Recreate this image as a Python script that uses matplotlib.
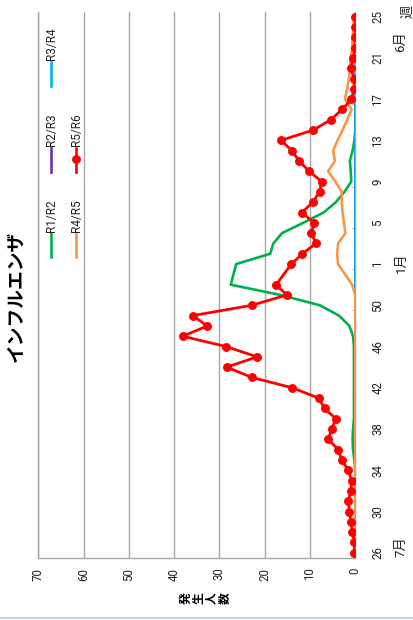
import numpy as np
import matplotlib
matplotlib.use('Agg')
import matplotlib.pyplot as plt
from matplotlib.lines import Line2D
import matplotlib.transforms as mtransforms

plt.rcParams['font.family'] = ['Roboto', 'Noto Sans CJK JP', 'DejaVu Sans']

nan = np.nan
# categories: ISO weeks from week 26 to week 53, then 1 to 25
weeks = list(range(26, 54)) + list(range(1, 26))

r1_r2 = [0, 0, 0, 0, 0, 0, 0, 0, 0, 0.2, 0.5, 0.6, 0.5, 0.3, 0.3, 0.3, 0.3, 0.3, 0.3, 0.3,
         0.3, 0.5, 1.3, 3.6, 7.8, 16.5, 27.5, nan,
         26.3, 18.8, 18.1, 16.2, 11.5, 7.0, 4.3, 2.4, 0.9, 1.0, 1.2, 0.6, 0.2,
         0, 0, 0, 0, 0, 0, 0, 0, 0, 0, 0, 0]
r2_r3 = [0] * 53
r3_r4 = [0] * 27 + [nan] + [0] * 25
r4_r5 = [0] * 26 + [0.7, nan,
         3.8, 4.0, 3.8, 2.2, 2.5, 2.8, 3.0, 3.0, 4.4, 6.0, 4.5, 4.9, 3.9, 2.8, 1.8, 0.8,
         2.3, 1.8, 1.4, 1.2, 1.0, 0.7, 0.6, 0.4, 0.2]
r5_r6 = [0.2, 0.2, 0.65, 0.95, 1.3, 1.55, 0.95, 0.8, 1.55, 3.0, 3.75, 6.0, 5.2, 4.3, 6.8,
         8.1, 13.9, 22.8, 28.4, 21.7, 28.5, 38.1, 32.7, 35.9, 22.9, 15.1, 17.5, nan,
         14.1, 11.7, 8.7, 9.7, 9.1, 11.8, 9.4, 7.9, 7.4, 10.2, 12.4, 14.0, 16.4, 9.3, 5.4,
         2.9, 0.85, 0.25, 0.25, 1.05, 0.4, 0.1, 0.05, 0, 0]

series_names = ['R1/R2', 'R2/R3', 'R3/R4', 'R4/R5', 'R5/R6']
series_vals = [r1_r2, r2_r3, r3_r4, r4_r5, r5_r6]
colors = ['#00B050', '#7030A0', '#00B0F0', '#F79646', '#FF0000']

value_ticks = [0, 10, 20, 30, 40, 50, 60, 70]
title = 'インフルエンザ'
ylabel = '発生人数'
month_labels = ['7月', '1月', '6月']
month_anchor_weeks = [26, 1, 22]
week_unit = '週'

W, H = 413, 620
fig = plt.figure(figsize=(W / 100, H / 100), dpi=100)
ax = fig.add_axes([38.3 / W, (H - 557.9) / H, 317.0 / W, 546.4 / H])

idx = np.arange(len(weeks))
for k, (name, vals, col) in enumerate(zip(series_names, series_vals, colors)):
    v = np.array(vals, dtype=float)
    m = ~np.isnan(v)
    if name == 'R5/R6':
        ax.plot(v[m], idx[m], color=col, lw=2.0, marker='o', ms=5.4, zorder=3 + k,
                solid_joinstyle='round')
    else:
        ax.plot(v[m], idx[m], color=col, lw=1.9, zorder=3 + k, solid_joinstyle='round')

ax.set_xlim(70, 0)
ax.set_ylim(-0.5, len(weeks) - 0.5)
ax.set_xticks(value_ticks)
ax.set_xticklabels([str(t) for t in value_ticks], rotation=90, fontsize=8.3, color='#222222')
ax.tick_params(axis='x', length=0, pad=7)
ax.grid(axis='x', color='#A6A6A6', lw=1.0)
ax.set_axisbelow(True)

ax.yaxis.tick_right()
major = idx[::4]
ax.set_yticks(major)
ax.set_yticklabels([str(weeks[i]) for i in major], rotation=90, va='center',
                   fontsize=8.3, color='#222222')
ax.set_yticks(np.arange(-0.5, len(weeks), 4), minor=True)
ax.tick_params(axis='y', which='major', length=0, pad=11.5)
ax.tick_params(axis='y', which='minor', length=2.5, direction='in', color='#A6A6A6',
               right=True, left=False)

for s in ['top']:
    ax.spines[s].set_visible(False)
for s in ['left', 'bottom', 'right']:
    ax.spines[s].set_color('#A6A6A6')
    ax.spines[s].set_linewidth(1.0)

# month labels and unit
tr = mtransforms.blended_transform_factory(fig.transFigure, ax.transData)
offsets = [0.55, 0.1, 0.6]
for lab, wk, off in zip(month_labels, month_anchor_weeks, offsets):
    ax.text(401 / W, weeks.index(wk) + off, lab, transform=tr, rotation=90,
            ha='center', va='center', fontsize=9.5, color='#222222', clip_on=False)
ax.text(407.5 / W, len(weeks) - 1 + 0.55, week_unit, transform=tr, rotation=90,
        ha='center', va='center', fontsize=9.5, color='#222222', clip_on=False)

# title
fig.text(16 / W, (H - 296) / H, title, rotation=90, ha='center', va='center',
         fontsize=13.5, fontweight='bold', family=['Noto Sans CJK JP', 'DejaVu Sans'])

# axis title: stacked characters
for i, ch in enumerate(ylabel):
    fig.text((186.3 + 12.5 * i) / W, (H - 598.5) / H, ch, rotation=90, ha='center',
             va='center', fontsize=8.5, fontweight='bold',
             family=['Noto Sans CJK JP', 'DejaVu Sans'])

# legend (rotated layout)
col_x = [50.5, 76.0]
row_base = [257.0, 171.5, 86.0]
for k, (name, col) in enumerate(zip(series_names, colors)):
    cx = col_x[k // 3]
    yb = row_base[k % 3]
    ln = Line2D([cx / W, cx / W], [(H - yb) / H, (H - (yb - 24)) / H],
                transform=fig.transFigure, color=col, lw=1.9)
    fig.add_artist(ln)
    if name == 'R5/R6':
        mk = Line2D([cx / W], [(H - (yb - 12)) / H], transform=fig.transFigure,
                    color=col, marker='o', ms=5.4, lw=0)
        fig.add_artist(mk)
    fig.text((cx + 0.8) / W, (H - (yb - 25.5)) / H, name, rotation=90, ha='center',
             va='bottom', fontsize=8.5, color='#222222')

# bottom border
fig.add_artist(Line2D([0, 1], [(H - 617.5) / H] * 2, transform=fig.transFigure,
                      color='#B7DDE8', lw=1.5))

fig.savefig('out.png', dpi=100)
